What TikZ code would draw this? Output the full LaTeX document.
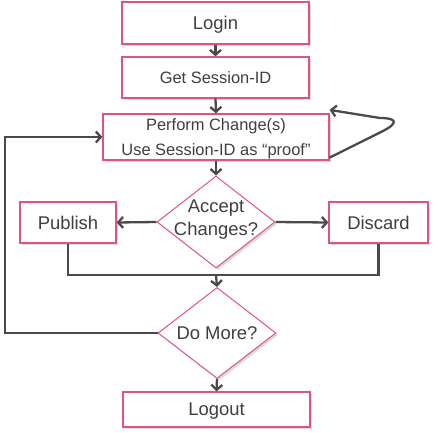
\documentclass[tikz,border=0pt]{standalone}
\usepackage{fontspec}
\setmainfont{Liberation Sans}
\usetikzlibrary{shapes.geometric,arrows.meta,shadows,calc}
\definecolor{pinkb}{HTML}{E0508A}
\definecolor{linec}{HTML}{4A4A4A}
\definecolor{textc}{HTML}{3F3F3F}
\tikzset{
  box/.style={draw=pinkb, line width=1.2bp, fill=white, rectangle, inner sep=0,
    text=textc, font=\fontsize{18.5}{20}\selectfont, text depth=0pt,
    drop shadow={shadow xshift=2bp, shadow yshift=-2bp, opacity=0.3, fill=gray}},
  smallbox/.style={draw=pinkb, line width=1.2bp, fill=white, rectangle, inner sep=0,
    text=textc, font=\fontsize{16.5}{25}\selectfont, align=center,
    drop shadow={shadow xshift=2bp, shadow yshift=-2bp, opacity=0.3, fill=gray}},
  diam/.style={draw=pinkb, line width=1bp, fill=white, diamond, inner sep=0,
    drop shadow={shadow xshift=2bp, shadow yshift=-2bp, opacity=0.3, fill=gray}},
  lbl/.style={text=textc, font=\fontsize{18.5}{23}\selectfont, align=center, inner sep=0},
  conn/.style={draw=linec, line width=2.3bp},
  arr/.style={conn, -{Straight Barb[length=5bp,width=11bp,line width=2.3bp]}},
}
\begin{document}
\begin{tikzpicture}[x=1bp,y=-1bp]
\useasboundingbox (0,0) rectangle (438,433);
\node[box, minimum width=187bp, minimum height=42bp] (login) at (215.5,23) {Login};
\node[smallbox, minimum width=187bp, minimum height=41bp, text depth=0pt] (sess) at (215.5,77.5) {Get Session-ID};
\node[smallbox, minimum width=226bp, minimum height=46bp, text depth=0pt] (perf) at (216,137) {Perform Change(s)\\Use Session-ID as “proof”};
\node[diam, minimum width=118bp, minimum height=92bp] (acc) at (216,222) {};
\node[lbl] (acct) at (216,219.5) {Accept\\Changes?};
\node[box, minimum width=96bp, minimum height=41bp] (pub) at (68,222.5) {Publish};
\node[box, minimum width=99bp, minimum height=41bp] (dis) at (378.5,222.5) {Discard};
\node[diam, minimum width=118bp, minimum height=91bp] (more) at (217,333) {};
\node[lbl, text depth=0pt] (moret) at (217,333) {Do More?};
\node[box, minimum width=187bp, minimum height=35bp] (logout) at (216.5,409.5) {Logout};
\coordinate (merge) at (216,275);
\coordinate (lx) at (5,333);
\coordinate (ly) at (5,137);

\draw[arr] (login.south) -- (sess.north);
\draw[arr] (sess.south) -- (perf.north);
\draw[arr] (perf.south) -- (acc.north);
\draw[arr] (acc.west) -- (pub.east);
\draw[arr] (acc.east) -- (dis.west);
\draw[conn] (pub.south) |- (merge) -| (dis.south);
\draw[arr] (merge) -- (more.north);
\draw[arr] (more.south) -- (logout.north);
\draw[arr] (more.west) -- (lx) -- (ly) -- (perf.west);
\draw[arr] ([yshift=3bp]perf.south east) -- (382,131.5) .. controls (399,123) and (397,118) .. (380,118) -- ([yshift=3.5bp]perf.north east);
\end{tikzpicture}
\end{document}
